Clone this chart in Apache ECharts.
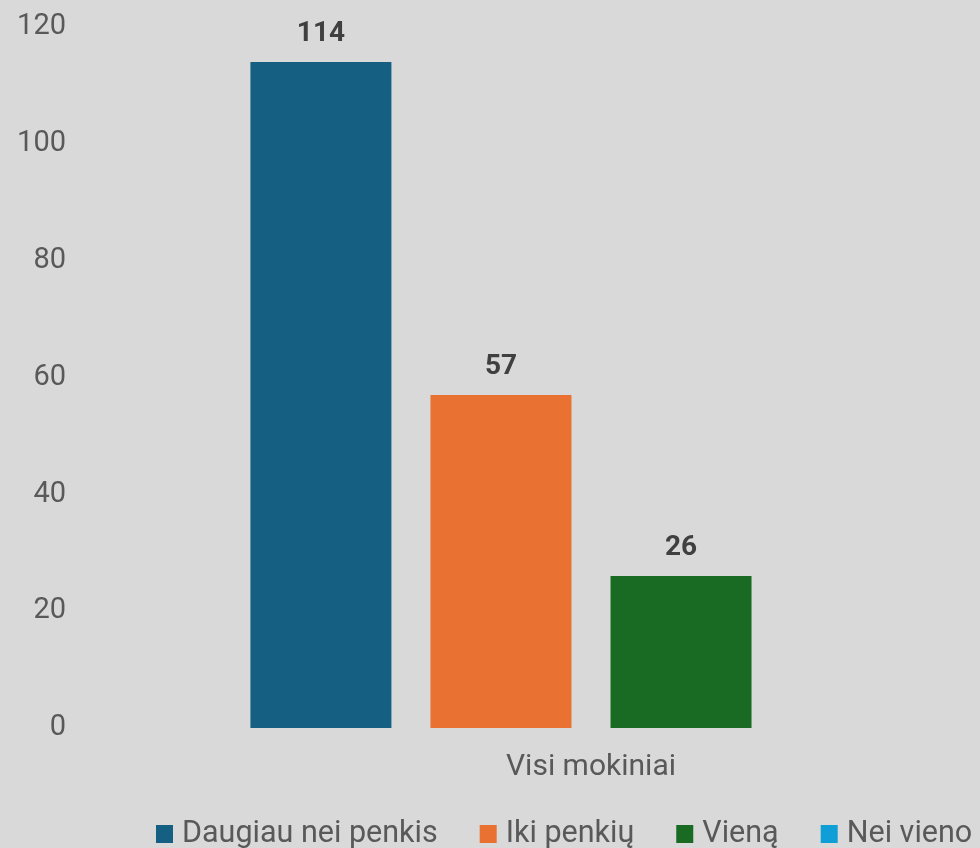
<!DOCTYPE html>
<html>
<head>
<meta charset="utf-8">
<script src="https://cdn.jsdelivr.net/npm/echarts@6/dist/echarts.min.js"></script>
<style>
  html, body { margin: 0; padding: 0; background: #d9d9d9; }
  #chart { width: 980px; height: 848px; }
</style>
</head>
<body>
<div id="chart"></div>
<script>
  // data
  var categories = ['Visi mokiniai']
  var seriesNames = ['Daugiau nei penkis', 'Iki penkių', 'Vieną', 'Nei vieno']
  var seriesValues = [[114], [57], [26], [0]]
  var colors = ['#156082', '#e97132', '#196b24', '#0f9ed5']

  var chart = echarts.init(document.getElementById('chart'))
  var font = 'Roboto, "Liberation Sans", sans-serif'

  var series = seriesNames.map(function (name, i) {
    return {
      name: name,
      type: 'bar',
      data: seriesValues[i],
      barWidth: 141,
      barGap: '27.7%',
      itemStyle: { color: colors[i] },
      label: {
        show: true,
        position: 'top',
        distance: 14,
        color: '#404040',
        fontFamily: font,
        fontWeight: 'bold',
        fontSize: 28,
        formatter: function (p) { return p.value ? p.value : '' }
      }
    }
  })

  chart.setOption({
    backgroundColor: '#d9d9d9',
    animation: false,
    grid: { left: 202, right: 0, top: 27, bottom: 120 },
    legend: {
      left: 151,
      top: 813,
      icon: 'rect',
      itemWidth: 17,
      itemHeight: 18,
      itemGap: 42,
      textStyle: { color: '#595959', fontSize: 30.5, lineHeight: 32, fontFamily: font, padding: [0, 0, 0, 4] },
      data: seriesNames
    },
    xAxis: {
      type: 'category',
      data: categories,
      axisLine: { show: false },
      axisTick: { show: false },
      axisLabel: { color: '#595959', fontSize: 30, fontFamily: font, margin: 24 }
    },
    yAxis: {
      type: 'value',
      min: 0,
      max: 120,
      interval: 20,
      splitLine: { show: false },
      axisLine: { show: false },
      axisTick: { show: false },
      axisLabel: { color: '#595959', fontSize: 29, fontFamily: font, margin: 136 }
    },
    series: series
  })
</script>
</body>
</html>
